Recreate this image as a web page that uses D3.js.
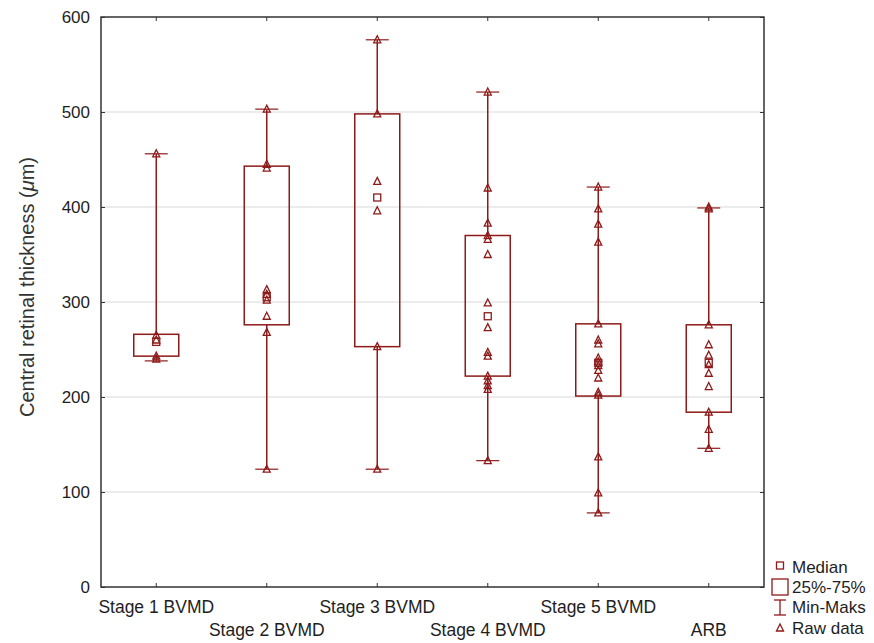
<!DOCTYPE html>
<html><head><meta charset="utf-8">
<script src="https://cdn.jsdelivr.net/npm/d3@7"></script>
<style>body{margin:0;background:#fff;}svg{display:block;font-family:"Liberation Sans",Arial,sans-serif;}</style>
</head><body><svg id="c" width="874" height="643"></svg>
<script>
const categories = ["Stage 1 BVMD","Stage 2 BVMD","Stage 3 BVMD","Stage 4 BVMD","Stage 5 BVMD","ARB"];
const mins    = [238, 124, 124, 133, 78, 146];
const q1s     = [243, 276, 253, 222, 201, 184];
const medians = [258, 305, 410, 285, 236, 236];
const q3s     = [266, 443, 498, 370, 277, 276];
const maxs    = [456, 503, 576, 521, 421, 399];
const raw = [
  [456, 265, 260, 243, 240],
  [503, 445, 441, 313, 308, 302, 285, 268, 124],
  [576, 498, 427, 396, 253, 124],
  [521, 420, 383, 370, 366, 350, 299, 273, 247, 243, 222, 217, 212, 208, 133],
  [421, 398, 382, 363, 277, 260, 256, 241, 237, 233, 228, 220, 205, 202, 137, 99, 78],
  [400, 398, 276, 255, 244, 234, 225, 211, 184, 166, 146]
];
const yTicks = [0,100,200,300,400,500,600];
const legendLabels = ["Median","25%-75%","Min-Maks","Raw data"];

const col = "#8e1a1a";
const txt = "#1e1e1e";
const svg = d3.select("#c");
const L=101, R=764, T=17, B=587;
const x = d3.scaleBand().domain(categories).range([L,R]);
const y = d3.scaleLinear().domain([0,600]).range([B,T]);

// gridlines
svg.append("g").selectAll("line").data(yTicks.filter(d=>d>0&&d<600)).join("line")
  .attr("x1",L).attr("x2",R).attr("y1",d=>y(d)).attr("y2",d=>y(d))
  .attr("stroke","#d9d9d9").attr("stroke-width",1);

// axes
const yl = svg.append("g").attr("transform",`translate(${L},0)`).call(d3.axisLeft(y).tickValues(yTicks).tickSize(-4).tickPadding(11));
yl.selectAll("text").attr("font-size",17).attr("fill",txt);
const yr = svg.append("g").attr("transform",`translate(${R},0)`).call(d3.axisRight(y).tickValues(yTicks).tickSize(-4).tickFormat(""));
const xb = svg.append("g").attr("transform",`translate(0,${B})`).call(d3.axisBottom(x).tickSize(-4).tickFormat(""));
const xt = svg.append("g").attr("transform",`translate(0,${T})`).call(d3.axisTop(x).tickSize(-4).tickFormat(""));
[yl,yr,xb,xt].forEach(g=>{g.select(".domain").remove();g.selectAll("line").attr("stroke","#333");});
svg.append("rect").attr("x",L).attr("y",T).attr("width",R-L).attr("height",B-T)
  .attr("fill","none").attr("stroke","#333").attr("stroke-width",1.5);

// x labels
svg.append("g").selectAll("text").data(categories).join("text")
  .attr("x",d=>x(d)+x.bandwidth()/2).attr("y",(d,i)=>i%2===0?613:636)
  .attr("text-anchor","middle").attr("font-size",17.5).attr("fill",txt).text(d=>d);

// y title
svg.append("text").attr("transform","translate(34,287) rotate(-90)").attr("text-anchor","middle")
  .attr("font-size",20).attr("fill","#333")
  .html('Central retinal thickness (<tspan font-style="italic">μ</tspan>m)');

const bw = 45, cw = 23;
const g = svg.append("g");
categories.forEach((c,i)=>{
  const cx = x(c)+x.bandwidth()/2;
  g.append("line").attr("x1",cx).attr("x2",cx).attr("y1",y(maxs[i])).attr("y2",y(q3s[i])).attr("stroke",col).attr("stroke-width",1.5);
  g.append("line").attr("x1",cx).attr("x2",cx).attr("y1",y(q1s[i])).attr("y2",y(mins[i])).attr("stroke",col).attr("stroke-width",1.5);
  [maxs[i],mins[i]].forEach(v=>g.append("line").attr("x1",cx-cw/2).attr("x2",cx+cw/2).attr("y1",y(v)).attr("y2",y(v)).attr("stroke",col).attr("stroke-width",1.2));
  g.append("rect").attr("x",cx-bw/2).attr("y",y(q3s[i])).attr("width",bw).attr("height",y(q1s[i])-y(q3s[i]))
    .attr("fill","none").attr("stroke",col).attr("stroke-width",1.5);
  g.append("rect").attr("x",cx-3.5).attr("y",y(medians[i])-3.5).attr("width",7).attr("height",7)
    .attr("fill","none").attr("stroke",col).attr("stroke-width",1.3);
  raw[i].forEach(v=>{
    const yy=y(v);
    g.append("path").attr("d",`M${cx},${yy-4}L${cx+3.5},${yy+3}L${cx-3.5},${yy+3}Z`)
      .attr("fill","none").attr("stroke",col).attr("stroke-width",1.3);
  });
});

// legend
const lg = svg.append("g");
const lx = 780;
lg.append("rect").attr("x",lx-3.5).attr("y",562).attr("width",7).attr("height",7).attr("fill","none").attr("stroke",col).attr("stroke-width",1.3);
lg.append("rect").attr("x",lx-8).attr("y",579).attr("width",16).attr("height",16).attr("fill","none").attr("stroke",col).attr("stroke-width",1.3);
lg.append("line").attr("x1",lx).attr("x2",lx).attr("y1",600).attr("y2",615).attr("stroke",col).attr("stroke-width",1.3);
lg.append("line").attr("x1",lx-6).attr("x2",lx+6).attr("y1",600).attr("y2",600).attr("stroke",col).attr("stroke-width",1.3);
lg.append("line").attr("x1",lx-6).attr("x2",lx+6).attr("y1",615).attr("y2",615).attr("stroke",col).attr("stroke-width",1.3);
lg.append("path").attr("d",`M${lx},${624}L${lx+3.5},${631}L${lx-3.5},${631}Z`).attr("fill","none").attr("stroke",col).attr("stroke-width",1.3);
lg.selectAll("text").data(legendLabels).join("text")
  .attr("x",792).attr("y",(d,i)=>[573,593,613,634][i]).attr("font-size",17).attr("fill",txt).text(d=>d);
</script></body></html>
